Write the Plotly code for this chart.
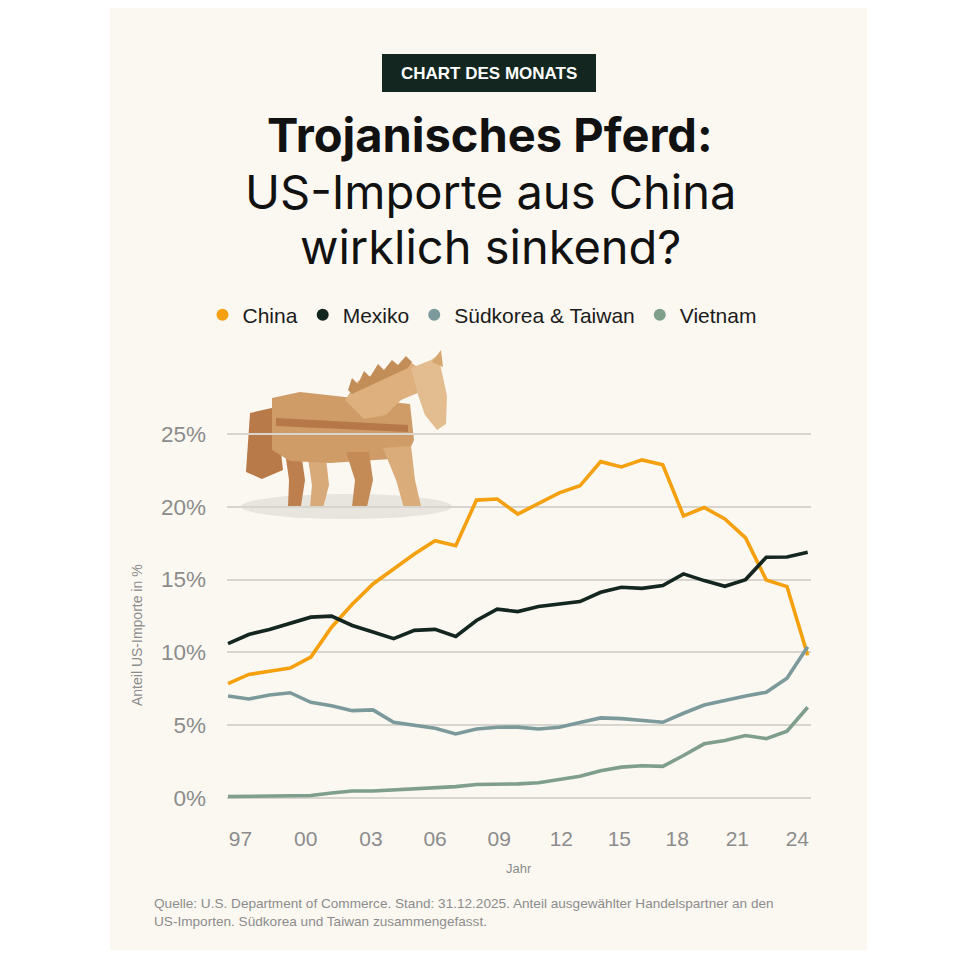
import plotly.graph_objects as go

# Anteil an den US-Importen in %, 1997-2025
years = list(range(1997, 2026))
china = [7.86, 8.49, 8.7, 8.92, 9.68, 11.73, 13.3, 14.7, 15.73, 16.76, 17.67, 17.33,
         20.46, 20.53, 19.5, 20.2, 20.96, 21.44, 23.1, 22.74, 23.22, 22.88, 19.38,
         19.95, 19.16, 17.86, 14.97, 14.52, 9.8]
mexiko = [10.6, 11.23, 11.58, 12.0, 12.42, 12.49, 11.85, 11.4, 10.94, 11.51, 11.58,
          11.1, 12.19, 12.97, 12.8, 13.15, 13.33, 13.49, 14.13, 14.47, 14.4, 14.59,
          15.39, 14.93, 14.54, 15.0, 16.53, 16.55, 16.87]
suedkorea_taiwan = [7.0, 6.8, 7.07, 7.23, 6.57, 6.34, 6.0, 6.05, 5.2, 4.97, 4.79, 4.4,
                    4.74, 4.86, 4.87, 4.74, 4.86, 5.18, 5.5, 5.45, 5.34, 5.2, 5.82,
                    6.39, 6.69, 7.01, 7.26, 8.22, 10.39]
vietnam = [0.1, 0.12, 0.12, 0.14, 0.17, 0.34, 0.48, 0.48, 0.55, 0.6, 0.69, 0.78, 0.93,
           0.93, 0.97, 1.05, 1.25, 1.5, 1.87, 2.12, 2.21, 2.17, 2.92, 3.72, 3.95,
           4.29, 4.08, 4.59, 6.23]

series_names = ["China", "Mexiko", "Südkorea & Taiwan", "Vietnam"]
series_colors = ["#F5A00F", "#13261F", "#7C9A9C", "#7F9F8B"]

y_tickvals = [0, 5, 10, 15, 20, 25]
y_ticktext = ["0%", "5%", "10%", "15%", "20%", "25%"]
x_tickvals = [1997.6, 2000.75, 2003.9, 2007.0, 2010.1, 2013.1, 2015.9, 2018.7, 2021.6, 2024.5]
x_ticktext = ["97", "00", "03", "06", "09", "12", "15", "18", "21", "24"]

FONT = "Liberation Sans, Arial, sans-serif"
TITLE_FONT = "Inter, Liberation Sans, sans-serif"
GREY = "#8C8C8C"
OFF = 8                            # body margin of the html page
W, H = 967 - 2 * OFF, 959 - 2 * OFF
L, R, T, B = 227, 811, 405, 810    # plot area, page pixels


def px(x):
    return (x - L) / (R - L)


def py(y):
    return (B - y) / (B - T)


def path(points):
    return "M " + " L ".join(f"{px(x):.4f},{py(y):.4f}" for x, y in points) + " Z"


fig = go.Figure()

for name, vals, col in zip(series_names, [china, mexiko, suedkorea_taiwan, vietnam], series_colors):
    fig.add_trace(go.Scatter(x=years, y=vals, mode="lines", name=name,
                             line=dict(color=col, width=3.6), showlegend=False,
                             hovertemplate="%{x}: %{y:.1f}%<extra>" + name + "</extra>"))

# legend entries shown as dots
for name, col in zip(series_names, series_colors):
    fig.add_trace(go.Scatter(x=[None], y=[None], mode="markers", name=name,
                             marker=dict(color=col, size=12, symbol="circle")))

shapes = [
    # card background
    dict(type="rect", xref="paper", yref="paper", x0=px(110), x1=px(867), y0=py(950), y1=py(5),
         fillcolor="#FBF8F1", line=dict(width=0), layer="below"),
    # badge
    dict(type="rect", xref="paper", yref="paper", x0=px(382), x1=px(596), y0=py(92), y1=py(54),
         fillcolor="#13261F", line=dict(width=0), layer="below"),
    # horse shadow
    dict(type="circle", xref="paper", yref="paper", x0=px(241), x1=px(452), y0=py(519), y1=py(494),
         fillcolor="#E7E5DE", line=dict(width=0), layer="between"),
]

# rough wooden horse
horse = [
    ([(250, 413), (276, 407), (283, 470), (262, 479), (246, 472)], "#B97A4A"),
    ([(285, 452), (301, 452), (305, 480), (301, 506), (288, 506), (289, 480)], "#BE7F4E"),
    ([(308, 458), (326, 458), (329, 485), (323, 508), (310, 508), (312, 485)], "#D8A979"),
    ([(272, 398), (300, 392), (345, 397), (410, 404), (414, 440), (406, 458), (330, 463), (290, 461), (272, 450)], "#CF9C68"),
    ([(276, 418), (408, 425), (408, 432), (276, 426)], "#B67848"),
    ([(346, 452), (369, 452), (373, 480), (367, 507), (352, 507), (355, 480)], "#C48B57"),
    ([(383, 448), (411, 446), (415, 480), (421, 506), (404, 508), (396, 480)], "#DAAC79"),
    ([(345, 400), (358, 381), (384, 370), (410, 362), (425, 372), (420, 392), (401, 400), (386, 415), (364, 419)], "#DDB07D"),
    ([(348, 390), (352, 378), (358, 384), (364, 371), (370, 377), (378, 364), (384, 370), (392, 360),
      (398, 365), (406, 356), (412, 362), (408, 368), (352, 394)], "#C38D58"),
    ([(411, 368), (431, 360), (438, 355), (441, 368), (447, 396), (446, 424), (437, 430), (425, 415), (418, 395)], "#E3BD8F"),
    ([(432, 362), (441, 350), (443, 367)], "#D6A66F"),
]
for pts, col in horse:
    shapes.append(dict(type="path", xref="paper", yref="paper", path=path(pts),
                       fillcolor=col, line=dict(width=0), layer="between"))

annotations = [
    dict(text="<b>CHART DES MONATS</b>", x=px(489), y=py(73), font=dict(size=17, color="white", family=FONT)),
    dict(text="<b>Trojanisches Pferd:</b>", x=px(490), y=py(135), font=dict(size=47, color="#111111", family=TITLE_FONT)),
    dict(text="US-Importe aus China", x=px(490), y=py(191), font=dict(size=47, color="#111111", family=TITLE_FONT)),
    dict(text="wirklich sinkend?", x=px(490), y=py(246), font=dict(size=47, color="#111111", family=TITLE_FONT)),
    dict(text="Anteil US-Importe in %", x=px(137), y=py(635), textangle=-90,
         font=dict(size=14, color=GREY, family=FONT)),
    dict(text="Jahr", x=px(519), y=py(868), font=dict(size=13, color=GREY, family=FONT)),
    dict(text="Quelle: U.S. Department of Commerce. Stand: 31.12.2025. Anteil ausgewählter Handelspartner an den"
              "<br>US-Importen. Südkorea und Taiwan zusammengefasst.",
         x=px(152), y=py(912), xanchor="left", align="left",
         font=dict(size=13.6, color=GREY, family=FONT)),
]
for a in annotations:
    a.setdefault("xref", "paper")
    a.setdefault("yref", "paper")
    a.setdefault("xanchor", "center")
    a.setdefault("yanchor", "middle")
    a["showarrow"] = False

fig.update_layout(
    width=W, height=H,
    margin=dict(l=L - OFF, r=W - (R - OFF), t=T - OFF, b=H - (B - OFF), pad=0),
    paper_bgcolor="white",
    plot_bgcolor="rgba(0,0,0,0)",
    font=dict(family=FONT, color=GREY),
    shapes=shapes,
    annotations=annotations,
    legend=dict(orientation="h", xref="container", yref="container",
                x=(482 - OFF) / W, xanchor="center", y=1 - (315 - OFF) / H, yanchor="middle",
                font=dict(size=21, color="#1B1B1B", family=FONT),
                bgcolor="rgba(0,0,0,0)", itemwidth=30),
    xaxis=dict(range=[1996.95, 2025.16], tickvals=x_tickvals, ticktext=x_ticktext,
               showgrid=False, zeroline=False, showline=False, ticks="",
               tickfont=dict(size=21, color=GREY), ticklabelstandoff=14, fixedrange=True),
    yaxis=dict(range=[-0.824, 26.99], tickvals=y_tickvals, ticktext=y_ticktext,
               showgrid=True, gridcolor="#D8D5CF", gridwidth=2, zeroline=False, showline=False,
               ticks="", tickfont=dict(size=22.5, color=GREY), ticklabelstandoff=20, fixedrange=True),
    showlegend=True,
)

fig.write_html("out.html")
